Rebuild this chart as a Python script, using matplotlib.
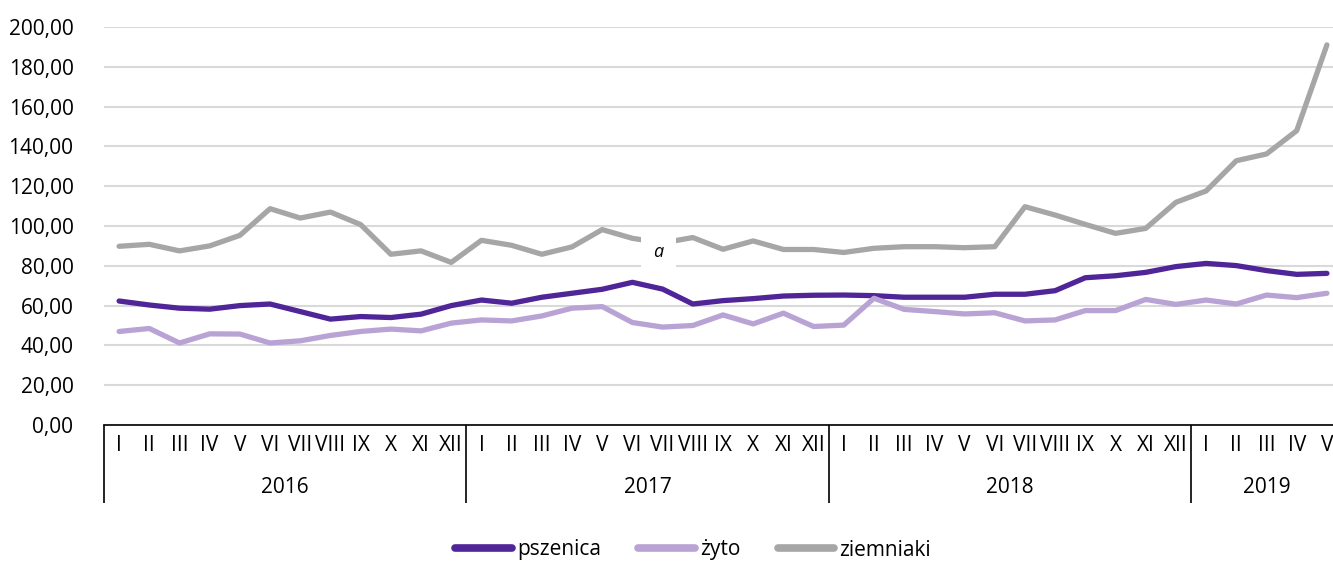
import matplotlib
matplotlib.use('Agg')
import matplotlib.pyplot as plt
from matplotlib.lines import Line2D

# dane
years = ["2016", "2017", "2018", "2019"]
months_per_year = [12, 12, 12, 5]
month_names = ["I", "II", "III", "IV", "V", "VI", "VII", "VIII", "IX", "X", "XI", "XII"]

pszenica = [62.3, 60.3, 58.7, 58.2, 60.0, 60.8, 57.0, 53.2, 54.5, 54.0, 55.7, 60.0,
            62.8, 61.2, 64.2, 66.2, 68.2, 71.7, 68.3, 60.8, 62.5, 63.5, 64.8, 65.2,
            65.3, 65.0, 64.2, 64.2, 64.2, 65.7, 65.7, 67.5, 74.0, 75.0, 76.7, 79.6,
            81.2, 80.1, 77.6, 75.7, 76.2]
zyto = [47.0, 48.5, 41.2, 45.8, 45.7, 41.2, 42.3, 45.0, 47.0, 48.2, 47.3, 51.2,
        52.8, 52.3, 54.8, 58.7, 59.5, 51.5, 49.2, 50.0, 55.3, 50.8, 56.2, 49.5,
        50.2, 63.7, 58.1, 57.0, 55.8, 56.4, 52.3, 52.8, 57.5, 57.5, 63.1, 60.6,
        62.8, 60.8, 65.3, 64.0, 66.2]
ziemniaki = [89.8, 90.8, 87.5, 90.0, 95.3, 108.7, 104.0, 107.0, 100.7, 85.8, 87.5, 81.7,
             92.8, 90.3, 85.8, 89.5, 98.2, 93.8, 91.5, 94.2, 88.3, 92.5, 88.2, 88.2,
             86.7, 88.8, 89.6, 89.6, 89.1, 89.6, 109.7, 105.5, 100.8, 96.3, 98.8, 111.9,
             117.6, 132.8, 136.2, 147.9, 191.0]

colors = ['#4F2597', '#B9A3D4', '#A6A6A6']
names = ['pszenica', 'żyto', 'ziemniaki']

plt.rcParams['font.family'] = ['Open Sans', 'DejaVu Sans']

fig = plt.figure(figsize=(13.33, 5.63), dpi=100)
W, H = 1333, 563
ax = fig.add_axes([104 / W, (H - 425) / H, (1342 - 104) / W, (425 - 27) / H])

x = list(range(len(pszenica)))
for series, c, n in zip([pszenica, zyto, ziemniaki], colors, names):
    ax.plot(x, series, color=c, lw=3.8, label=n, solid_capstyle='round', zorder=3)

# etykieta "a"
ax.text(17.85, 87, "a", style='italic', fontsize=13, ha='center', va='center', zorder=4,
        bbox=dict(facecolor='white', edgecolor='none', pad=9))

ax.set_xlim(-0.5, len(x) - 0.5)
ax.set_ylim(0, 200)
ax.set_yticks(range(0, 201, 20))
ax.set_yticklabels([f"{v},00" for v in range(0, 201, 20)], fontsize=15)
ax.tick_params(axis='y', length=0, pad=22)
ax.grid(axis='y', color='#D9D9D9', lw=1.5)
ax.set_axisbelow(True)
for s in ['left', 'right', 'top']:
    ax.spines[s].set_visible(False)
ax.spines['bottom'].set_color('black')
ax.spines['bottom'].set_linewidth(1.2)

# os kategorii (miesiace + lata)
labels = []
for n in months_per_year:
    labels += month_names[:n]
ax.set_xticks(x)
ax.set_xticklabels(labels, fontsize=15)
ax.tick_params(axis='x', length=0, pad=7)

trans = ax.get_xaxis_transform()
start = -0.5
ax.vlines(start, -0.195, 0, transform=trans, color='black', lw=1.2, clip_on=False)
for yr, n in zip(years, months_per_year):
    end = start + n
    ax.vlines(end, -0.195, 0, transform=trans, color='black', lw=1.2, clip_on=False)
    ax.text((start + end) / 2, -0.158, yr, transform=trans, ha='center', va='center', fontsize=15)
    start = end

handles = [Line2D([], [], color=c, lw=5.5, solid_capstyle='round') for c in colors]
fig.legend(handles, names, loc='center', bbox_to_anchor=(693 / W, 1 - 550 / H), ncol=3,
           frameon=False, fontsize=15, handlelength=2.7, handletextpad=0.25, columnspacing=1.8)

plt.savefig("out.png", dpi=100)
